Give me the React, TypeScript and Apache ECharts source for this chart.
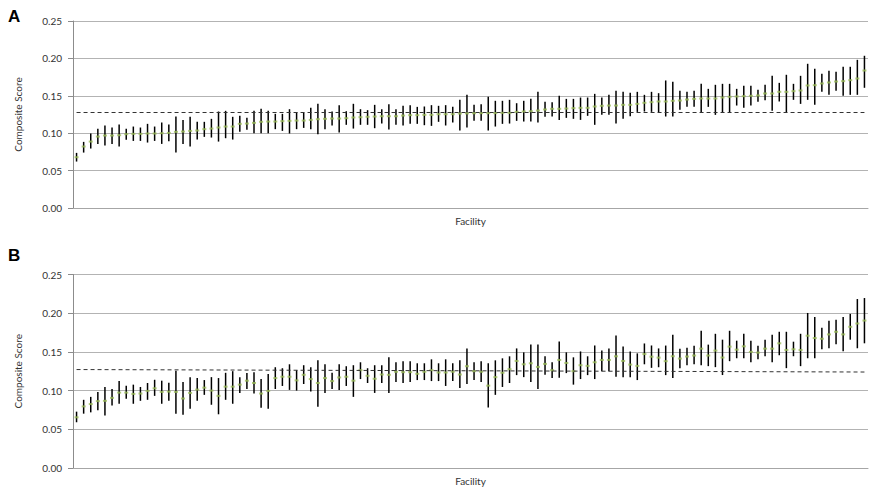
import React, { useEffect, useRef } from "react";
import * as echarts from "echarts";

const facilityCount = 112;
const categories: string[] = Array.from({ length: facilityCount }, (_, i) => String(i + 1));
const yTicks = [0, 0.05, 0.1, 0.15, 0.2, 0.25];

const aMid = [
  0.0679, 0.0822, 0.0888, 0.0955, 0.0969, 0.0969, 0.0973, 0.0987, 0.0991, 0.0991,
  0.0996, 0.0996, 0.1000, 0.1004, 0.1018, 0.1022, 0.1031, 0.1036, 0.1054, 0.1062,
  0.1076, 0.1089, 0.1089, 0.1125, 0.1129, 0.1138, 0.1152, 0.1156, 0.1156, 0.1161,
  0.1165, 0.1169, 0.1169, 0.1178, 0.1187, 0.1192, 0.1196, 0.1196, 0.1201, 0.1210,
  0.1214, 0.1219, 0.1223, 0.1227, 0.1227, 0.1227, 0.1236, 0.1241, 0.1241, 0.1245,
  0.1245, 0.1254, 0.1254, 0.1254, 0.1263, 0.1265, 0.1267, 0.1268, 0.1268, 0.1269,
  0.1272, 0.1272, 0.1285, 0.1290, 0.1294, 0.1303, 0.1317, 0.1326, 0.1326, 0.1330,
  0.1335, 0.1339, 0.1339, 0.1357, 0.1366, 0.1370, 0.1370, 0.1379, 0.1379, 0.1392,
  0.1406, 0.1415, 0.1424, 0.1424, 0.1433, 0.1437, 0.1450, 0.1459, 0.1464, 0.1464,
  0.1464, 0.1477, 0.1486, 0.1491, 0.1495, 0.1500, 0.1504, 0.1531, 0.1531, 0.1553,
  0.1553, 0.1562, 0.1571, 0.1638, 0.1642, 0.1665, 0.1678, 0.1691, 0.1696, 0.1709,
  0.1731, 0.1838,
];
const aLow = [
  0.0621, 0.0741, 0.0795, 0.0857, 0.0835, 0.0857, 0.0822, 0.0911, 0.0897, 0.0897,
  0.0875, 0.0897, 0.0857, 0.0893, 0.0741, 0.0857, 0.0822, 0.0915, 0.0951, 0.0942,
  0.0888, 0.0933, 0.0915, 0.1018, 0.1045, 0.1000, 0.1000, 0.1000, 0.1054, 0.1031,
  0.0996, 0.1054, 0.1071, 0.1054, 0.0987, 0.1054, 0.1103, 0.1009, 0.1112, 0.1062,
  0.1112, 0.1112, 0.1067, 0.1129, 0.1049, 0.1112, 0.1103, 0.1125, 0.1125, 0.1107,
  0.1098, 0.1152, 0.1103, 0.1143, 0.1036, 0.1076, 0.1165, 0.1165, 0.1036, 0.1089,
  0.1125, 0.1129, 0.1165, 0.1156, 0.1156, 0.1143, 0.1219, 0.1223, 0.1178, 0.1205,
  0.1192, 0.1178, 0.1232, 0.1112, 0.1245, 0.1245, 0.1129, 0.1192, 0.1227, 0.1285,
  0.1290, 0.1285, 0.1281, 0.1223, 0.1223, 0.1312, 0.1352, 0.1352, 0.1281, 0.1352,
  0.1245, 0.1281, 0.1281, 0.1370, 0.1339, 0.1370, 0.1419, 0.1442, 0.1299, 0.1424,
  0.1281, 0.1446, 0.1392, 0.1446, 0.1379, 0.1553, 0.1513, 0.1566, 0.1500, 0.1513,
  0.1513, 0.1607,
];
const aHigh = [
  0.0737, 0.0884, 0.0996, 0.1058, 0.1103, 0.1076, 0.1116, 0.1058, 0.1089, 0.1076,
  0.1125, 0.1089, 0.1143, 0.1116, 0.1223, 0.1178, 0.1219, 0.1152, 0.1152, 0.1192,
  0.1290, 0.1299, 0.1219, 0.1232, 0.1205, 0.1299, 0.1326, 0.1299, 0.1259, 0.1259,
  0.1321, 0.1281, 0.1272, 0.1339, 0.1393, 0.1321, 0.1290, 0.1375, 0.1294, 0.1393,
  0.1321, 0.1308, 0.1379, 0.1321, 0.1388, 0.1321, 0.1366, 0.1375, 0.1352, 0.1357,
  0.1375, 0.1366, 0.1375, 0.1352, 0.1446, 0.1513, 0.1379, 0.1388, 0.1486, 0.1433,
  0.1433, 0.1446, 0.1401, 0.1433, 0.1459, 0.1553, 0.1419, 0.1415, 0.1500, 0.1459,
  0.1459, 0.1477, 0.1477, 0.1526, 0.1477, 0.1513, 0.1566, 0.1553, 0.1540, 0.1553,
  0.1513, 0.1553, 0.1535, 0.1705, 0.1687, 0.1566, 0.1553, 0.1566, 0.1660, 0.1593,
  0.1647, 0.1660, 0.1660, 0.1593, 0.1633, 0.1633, 0.1580, 0.1647, 0.1767, 0.1673,
  0.1781, 0.1660, 0.1767, 0.1928, 0.1861, 0.1794, 0.1834, 0.1821, 0.1888, 0.1888,
  0.1981, 0.2035,
];
const aReference = [0.1285, 0.1285];

const bMid = [
  0.0655, 0.0796, 0.0826, 0.0864, 0.0868, 0.0906, 0.0974, 0.0974, 0.0957, 0.0962,
  0.0996, 0.1030, 0.0983, 0.0987, 0.0983, 0.0898, 0.0970, 0.1013, 0.1038, 0.1000,
  0.0932, 0.1051, 0.1051, 0.1077, 0.1128, 0.1098, 0.0962, 0.0996, 0.1162, 0.1179,
  0.1179, 0.1132, 0.1204, 0.1149, 0.1098, 0.1162, 0.1123, 0.1170, 0.1179, 0.1128,
  0.1264, 0.1191, 0.1153, 0.1208, 0.1204, 0.1243, 0.1238, 0.1238, 0.1217, 0.1243,
  0.1264, 0.1234, 0.1234, 0.1243, 0.1208, 0.1315, 0.1251, 0.1243, 0.1064, 0.1174,
  0.1230, 0.1277, 0.1383, 0.1340, 0.1353, 0.1306, 0.1345, 0.1264, 0.1396, 0.1357,
  0.1251, 0.1328, 0.1319, 0.1366, 0.1396, 0.1396, 0.1443, 0.1383, 0.1336, 0.1319,
  0.1472, 0.1438, 0.1426, 0.1380, 0.1444, 0.1414, 0.1440, 0.1453, 0.1542, 0.1453,
  0.1517, 0.1427, 0.1568, 0.1529, 0.1572, 0.1500, 0.1491, 0.1542, 0.1542, 0.1611,
  0.1525, 0.1534, 0.1525, 0.1709, 0.1679, 0.1670, 0.1726, 0.1760, 0.1726, 0.1824,
  0.1867, 0.1905,
];
const bLow = [
  0.0591, 0.0702, 0.0719, 0.0745, 0.0677, 0.0809, 0.0830, 0.0894, 0.0830, 0.0868,
  0.0881, 0.0932, 0.0830, 0.0868, 0.0702, 0.0689, 0.0766, 0.0868, 0.0945, 0.0817,
  0.0694, 0.0881, 0.0830, 0.0970, 0.1021, 0.0962, 0.0779, 0.0766, 0.1021, 0.1060,
  0.1009, 0.1000, 0.1085, 0.0987, 0.0791, 0.0970, 0.1021, 0.1009, 0.1060, 0.0919,
  0.1149, 0.1098, 0.0970, 0.1098, 0.0970, 0.1111, 0.1098, 0.1111, 0.1136, 0.1136,
  0.1123, 0.1123, 0.1060, 0.1123, 0.1034, 0.1085, 0.1136, 0.1111, 0.0783, 0.0945,
  0.1047, 0.1098, 0.1200, 0.1174, 0.1111, 0.1021, 0.1204, 0.1162, 0.1166, 0.1226,
  0.1077, 0.1149, 0.1200, 0.1149, 0.1251, 0.1251, 0.1179, 0.1174, 0.1174, 0.1136,
  0.1340, 0.1294, 0.1302, 0.1200, 0.1162, 0.1290, 0.1329, 0.1342, 0.1329, 0.1316,
  0.1303, 0.1201, 0.1380, 0.1418, 0.1418, 0.1367, 0.1406, 0.1444, 0.1367, 0.1457,
  0.1290, 0.1444, 0.1316, 0.1418, 0.1418, 0.1534, 0.1547, 0.1598, 0.1508, 0.1658,
  0.1547, 0.1611,
];
const bHigh = [
  0.0728, 0.0881, 0.0919, 0.0983, 0.1047, 0.1021, 0.1123, 0.1064, 0.1077, 0.1047,
  0.1098, 0.1140, 0.1128, 0.1102, 0.1255, 0.1111, 0.1174, 0.1162, 0.1136, 0.1174,
  0.1162, 0.1230, 0.1251, 0.1174, 0.1226, 0.1238, 0.1149, 0.1213, 0.1302, 0.1289,
  0.1340, 0.1264, 0.1328, 0.1302, 0.1391, 0.1340, 0.1230, 0.1340, 0.1315, 0.1328,
  0.1366, 0.1289, 0.1328, 0.1328, 0.1430, 0.1366, 0.1379, 0.1379, 0.1353, 0.1353,
  0.1404, 0.1353, 0.1404, 0.1353, 0.1391, 0.1545, 0.1366, 0.1379, 0.1353, 0.1391,
  0.1417, 0.1443, 0.1545, 0.1494, 0.1596, 0.1596, 0.1443, 0.1366, 0.1634, 0.1494,
  0.1430, 0.1506, 0.1443, 0.1583, 0.1519, 0.1545, 0.1711, 0.1570, 0.1506, 0.1481,
  0.1609, 0.1583, 0.1545, 0.1582, 0.1722, 0.1542, 0.1555, 0.1581, 0.1773, 0.1594,
  0.1734, 0.1658, 0.1773, 0.1645, 0.1734, 0.1645, 0.1581, 0.1658, 0.1722, 0.1760,
  0.1760, 0.1632, 0.1734, 0.2003, 0.1952, 0.1811, 0.1901, 0.1914, 0.1952, 0.1991,
  0.2183, 0.2196,
];
const bReference = [0.1272, 0.1240];

const FONT = "Lato, 'Open Sans', sans-serif";

function makeAxes(gridIndex: number) {
  const xAxis = {
    type: "category",
    gridIndex,
    data: categories,
    boundaryGap: true,
    name: "Facility",
    nameLocation: "middle",
    nameGap: 8,
    nameTextStyle: { fontFamily: FONT, fontSize: 10, color: "#333", verticalAlign: "top" },
    axisLine: { show: true, lineStyle: { color: "#a6a6a6", width: 1 } },
    axisTick: { show: false },
    axisLabel: { show: false },
    splitLine: { show: false },
  };
  const yAxis = {
    type: "value",
    gridIndex,
    min: 0,
    max: 0.25,
    interval: 0.05,
    name: "Composite Score",
    nameLocation: "middle",
    nameGap: 50,
    nameTextStyle: { fontFamily: FONT, fontSize: 10, color: "#333" },
    axisLine: { show: true, lineStyle: { color: "#8c8c8c", width: 1 } },
    axisTick: { show: true, length: 5, inside: false, lineStyle: { color: "#8c8c8c" } },
    axisLabel: {
      margin: 11,
      fontFamily: FONT,
      fontSize: 10,
      color: "#333",
      formatter: (v: number) => v.toFixed(2),
    },
    splitLine: { show: true, lineStyle: { color: "#b3b3b3", width: 1 } },
  };
  return { xAxis, yAxis };
}

function makeSeries(idx: number, mid: number[], low: number[], high: number[], ref: number[]) {
  const barData = categories.map((c, i) => [i, low[i], high[i]]);
  return [
    {
      type: "custom",
      xAxisIndex: idx,
      yAxisIndex: idx,
      data: barData,
      encode: { x: 0, y: [1, 2] },
      z: 2,
      renderItem: (_params: any, api: any) => {
        const p1 = api.coord([api.value(0), api.value(1)]);
        const p2 = api.coord([api.value(0), api.value(2)]);
        return {
          type: "line",
          shape: { x1: p1[0], y1: p1[1], x2: p2[0], y2: p2[1] },
          style: { stroke: "#000", lineWidth: 1.5 },
        };
      },
    },
    {
      type: "scatter",
      xAxisIndex: idx,
      yAxisIndex: idx,
      data: mid,
      symbol: "rect",
      symbolSize: [4, 2],
      itemStyle: { color: "#9bbb59" },
      z: 4,
      markLine: {
        silent: true,
        symbol: ["none", "none"],
        label: { show: false },
        lineStyle: { color: "#333", width: 1, type: [4, 3] },
        data: [
          [
            { coord: [categories[0], ref[0]] },
            { coord: [categories[categories.length - 1], ref[1]] },
          ],
        ],
      },
    },
  ];
}

export default function App() {
  const ref = useRef<HTMLDivElement>(null);
  useEffect(() => {
    if (!ref.current) return;
    const chart = echarts.init(ref.current, undefined, { renderer: "svg" });
    const a = makeAxes(0);
    const b = makeAxes(1);
    chart.setOption({
      animation: false,
      backgroundColor: "#fff",
      grid: [
        { left: 73, right: 2, top: 21, height: 187 },
        { left: 73, right: 2, top: 274.5, height: 195 },
      ],
      xAxis: [a.xAxis, b.xAxis],
      yAxis: [a.yAxis, b.yAxis],
      graphic: [
        {
          type: "text",
          left: 8,
          top: 8,
          style: { text: "A", font: "bold 17px 'Liberation Sans', Arial, sans-serif", fill: "#000" },
        },
        {
          type: "text",
          left: 8,
          top: 247,
          style: { text: "B", font: "bold 17px 'Liberation Sans', Arial, sans-serif", fill: "#000" },
        },
      ],
      series: [
        ...makeSeries(0, aMid, aLow, aHigh, aReference),
        ...makeSeries(1, bMid, bLow, bHigh, bReference),
      ],
    });
    return () => chart.dispose();
  }, []);
  return (
    <div
      ref={ref}
      style={{ position: "fixed", left: 0, top: 0, width: 870, height: 487, background: "#fff" }}
    />
  );
}
